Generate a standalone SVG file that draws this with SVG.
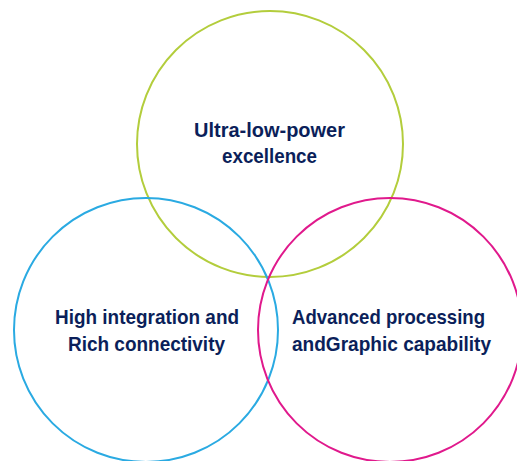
<svg xmlns="http://www.w3.org/2000/svg" width="517" height="461" viewBox="0 0 517 461">
<style>
.c{fill:none;stroke-width:2}
.t{font-family:"Liberation Sans Narrow","Liberation Sans",Arial,sans-serif;font-weight:bold;font-size:21px;fill:#0b1f5a;text-anchor:middle}
</style>
<rect width="517" height="461" fill="#ffffff"/>
<g id="node-top">
<circle class="c" cx="270" cy="144" r="133" stroke="#b3cd3c"/>
<text class="t" x="269.5" y="137" textLength="151" lengthAdjust="spacingAndGlyphs">Ultra-low-power</text>
<text class="t" x="269.5" y="163" textLength="95" lengthAdjust="spacingAndGlyphs">excellence</text>
</g>
<g id="node-left">
<circle class="c" cx="146" cy="330" r="132" stroke="#2aaae2"/>
<text class="t" x="147" y="324" textLength="184" lengthAdjust="spacingAndGlyphs">High integration and</text>
<text class="t" x="146.5" y="351" textLength="157" lengthAdjust="spacingAndGlyphs">Rich connectivity</text>
</g>
<g id="node-right">
<circle class="c" cx="390" cy="330" r="132" stroke="#e0198c"/>
<text class="t" x="388.5" y="324" textLength="193" lengthAdjust="spacingAndGlyphs">Advanced processing</text>
<text class="t" x="391.5" y="351" textLength="199" lengthAdjust="spacingAndGlyphs">andGraphic capability</text>
</g>
<g id="connectors"></g>
</svg>
